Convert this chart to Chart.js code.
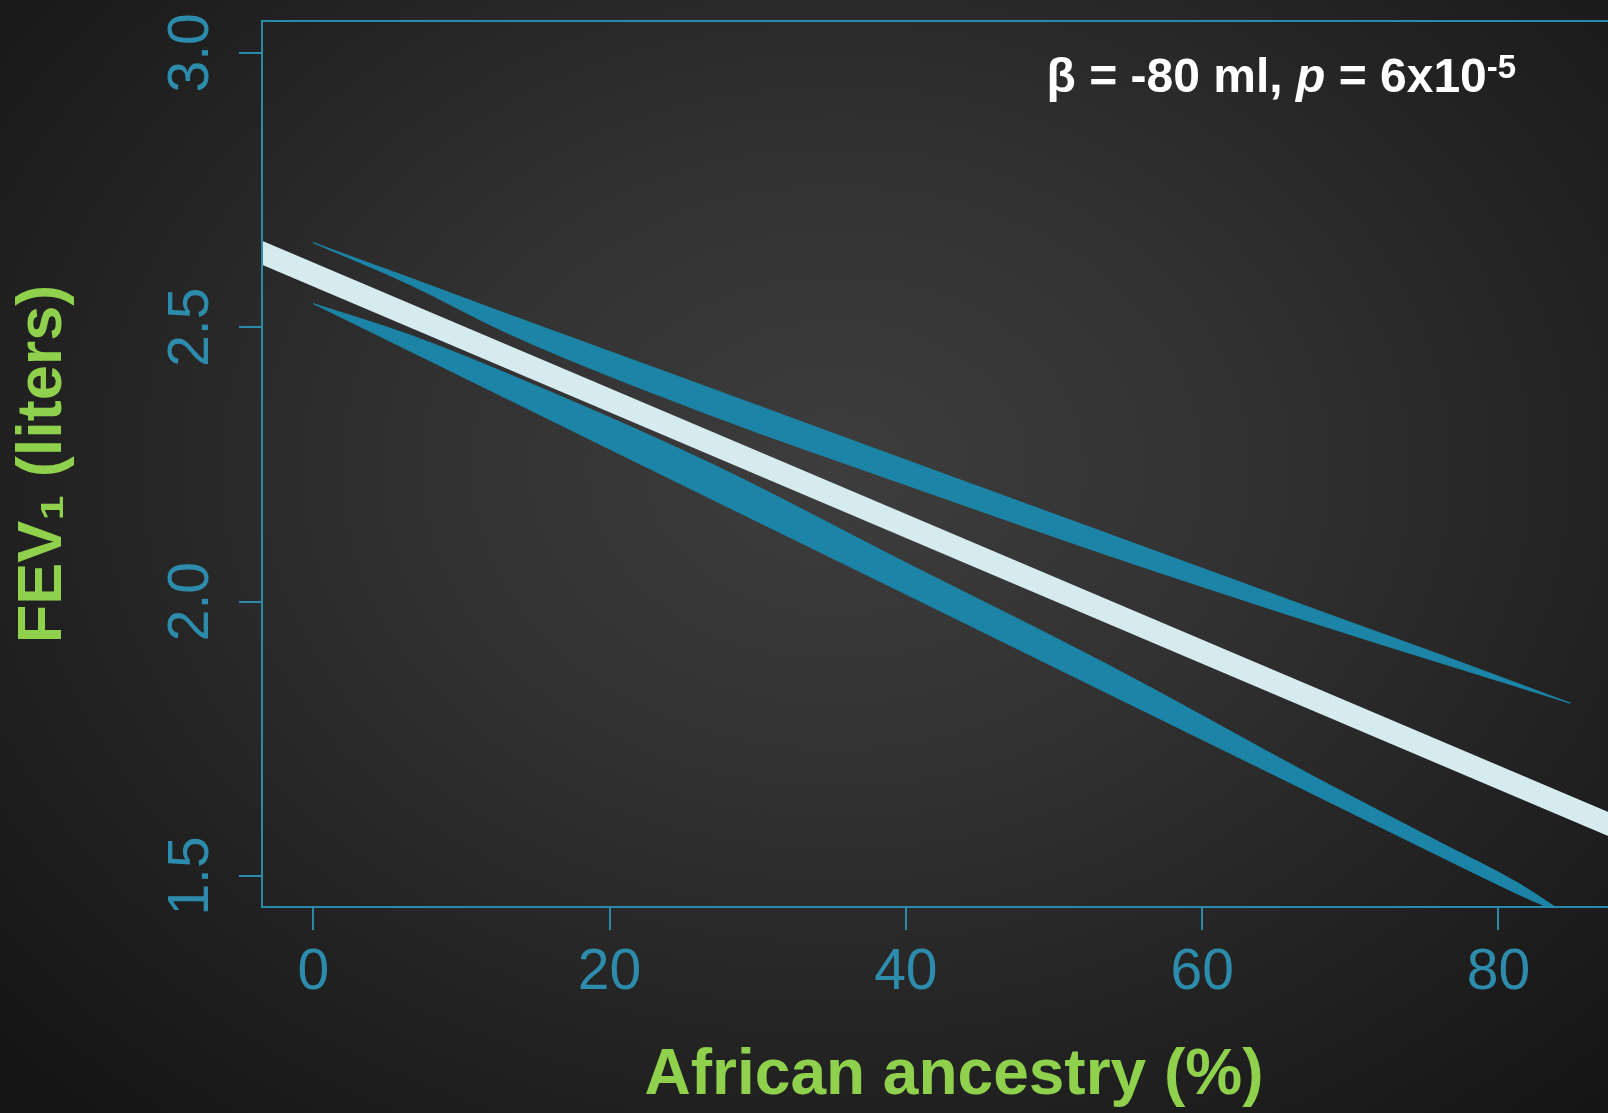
<!DOCTYPE html>
<html>
<head>
<meta charset="utf-8">
<title>FEV1 vs African ancestry</title>
<script src="https://cdn.jsdelivr.net/npm/chart.js@4.4.1/dist/chart.umd.min.js"></script>
<style>
  html, body { margin: 0; padding: 0; width: 1608px; height: 1113px; overflow: hidden; }
  body { background: radial-gradient(ellipse 70% 78% at 52% 42%, #3d3d3d 0%, #323232 35%, #222 70%, #151515 100%); }
  #wrap { position: relative; width: 1660px; height: 1113px; }
</style>
</head>
<body>
<div id="wrap"><canvas id="chart" width="1660" height="1113"></canvas></div>
<script>
// axis limits (R style, 4% padding around the data)
const xMin = -3.46, xMax = 89.96;
const yMin = 1.4435, yMax = 3.058;
const xTicks = [0, 20, 40, 60, 80];
const yTicks = [1.5, 2.0, 2.5, 3.0];

// fitted line
const fitX = [-4, 90];
const fitY = [2.642, 1.565];

// upper band (top and bottom edge)
const upperX   = [0, 6.5, 13.3, 26.8, 40.2, 53.7, 67.9, 76.5, 84.85];
const upperTop = [2.654, 2.590, 2.522, 2.389, 2.256, 2.123, 1.983, 1.899, 1.815];
const upperBot = [2.654, 2.578, 2.487, 2.340, 2.211, 2.084, 1.958, 1.885, 1.815];

// lower band
const lowerX   = [0, 6.5, 13.3, 26.8, 40.2, 53.7, 67.9, 76.5, 81.4, 84.85];
const lowerTop = [2.543, 2.486, 2.413, 2.252, 2.068, 1.884, 1.676, 1.555, 1.486, 1.425];
const lowerBot = [2.543, 2.457, 2.367, 2.188, 2.011, 1.832, 1.644, 1.530, 1.466, 1.425];

// annotation anchor (data coords, left end / baseline)
const annotX = 49.5, annotY = 2.929;

const FONT = '"Liberation Sans", Arial, sans-serif';
const teal = '#2b89a9';
const tickCol = '#2d8cac';
const green = '#8fd14c';
const bandCol = '#1c84a6';
const fitCol = '#d6ebf0';

function pts(xs, ys) {
  return xs.map((x, i) => ({x: x, y: ys[i]}));
}

const framePlugin = {
  id: 'frame',
  afterDraw(chart) {
    const {ctx, chartArea: a} = chart;
    ctx.save();
    ctx.strokeStyle = teal;
    ctx.lineWidth = 2;
    ctx.strokeRect(a.left, a.top, a.right - a.left, a.bottom - a.top);
    ctx.restore();
  }
};

const annotPlugin = {
  id: 'annot',
  afterDraw(chart) {
    const ctx = chart.ctx;
    let x = chart.scales.x.getPixelForValue(annotX);
    const y = chart.scales.y.getPixelForValue(annotY);
    const parts = [
      {t: '\u03B2 = -80 ml, ', f: 'bold 48px ' + FONT, dy: 0},
      {t: 'p', f: 'italic bold 48px ' + FONT, dy: 0},
      {t: ' = 6x10', f: 'bold 48px ' + FONT, dy: 0},
      {t: '-5', f: 'bold 33px ' + FONT, dy: -14}
    ];
    ctx.save();
    ctx.fillStyle = '#ffffff';
    ctx.textBaseline = 'alphabetic';
    ctx.textAlign = 'left';
    parts.forEach(p => {
      ctx.font = p.f;
      ctx.fillText(p.t, x, y + p.dy);
      x += ctx.measureText(p.t).width;
    });
    ctx.restore();
  }
};

const ctx = document.getElementById('chart').getContext('2d');
new Chart(ctx, {
  type: 'line',
  data: {
    datasets: [
      {data: pts(fitX, fitY), borderColor: fitCol, borderWidth: 22, fill: false, clip: 0},
      {data: pts(upperX, upperTop), borderColor: bandCol, borderWidth: 1, fill: false, clip: 0},
      {data: pts(upperX, upperBot), borderColor: bandCol, borderWidth: 1, fill: '-1', backgroundColor: bandCol, clip: 0},
      {data: pts(lowerX, lowerTop), borderColor: bandCol, borderWidth: 1, fill: false, clip: 0},
      {data: pts(lowerX, lowerBot), borderColor: bandCol, borderWidth: 1, fill: '-1', backgroundColor: bandCol, clip: 0}
    ]
  },
  options: {
    responsive: false,
    animation: false,
    devicePixelRatio: 1,
    layout: {padding: {top: 21, right: 14, left: 0, bottom: 0}},
    plugins: {legend: {display: false}, tooltip: {enabled: false}},
    elements: {point: {radius: 0}, line: {cubicInterpolationMode: 'monotone', borderCapStyle: 'butt'}},
    scales: {
      x: {
        type: 'linear', min: xMin, max: xMax,
        afterBuildTicks: s => { s.ticks = xTicks.map(v => ({value: v})); },
        afterFit: s => { s.height = 206; s.paddingLeft = 0; s.paddingRight = 0; },
        ticks: {color: tickCol, font: {family: FONT, size: 57}, padding: 9, maxRotation: 0, autoSkip: false},
        grid: {drawOnChartArea: false, drawTicks: true, tickLength: 23, color: teal, lineWidth: 2},
        border: {display: true, color: teal, width: 2},
        title: {display: true, text: 'African ancestry (%)', color: green,
                font: {family: FONT, size: 64, weight: 'bold', lineHeight: 1.2}, padding: {top: 0, bottom: -2}}
      },
      y: {
        type: 'linear', min: yMin, max: yMax,
        afterBuildTicks: s => { s.ticks = yTicks.map(v => ({value: v})); },
        afterFit: s => { s.width = 262; s.paddingTop = 0; s.paddingBottom = 0; },
        ticks: {color: tickCol, font: {family: FONT, size: 57}, padding: 7, minRotation: 90, maxRotation: 90,
                crossAlign: 'center', autoSkip: false, callback: v => v.toFixed(1)},
        grid: {drawOnChartArea: false, drawTicks: true, tickLength: 23, color: teal, lineWidth: 2},
        border: {display: true, color: teal, width: 2},
        title: {display: true, text: 'FEV\u2081 (liters)', color: green,
                font: {family: FONT, size: 63, weight: 'bold', lineHeight: 1.2}, padding: {top: 6, bottom: 0}}
      }
    }
  },
  plugins: [framePlugin, annotPlugin]
});
</script>
</body>
</html>
